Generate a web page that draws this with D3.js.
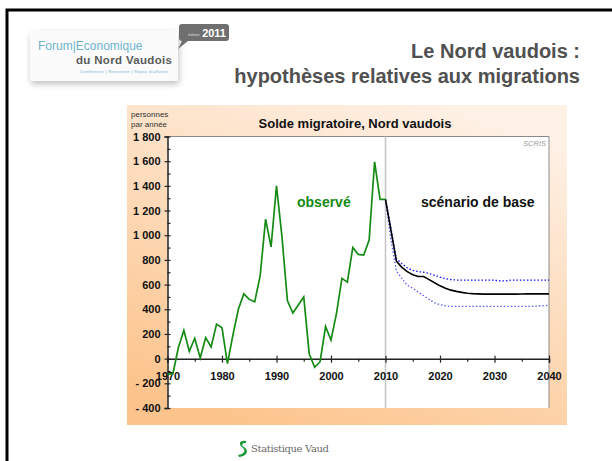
<!DOCTYPE html>
<html lang="fr">
<head>
<meta charset="UTF-8">
<title>Solde migratoire, Nord vaudois</title>
<script src="https://d3js.org/d3.v7.min.js"></script>
<style>
  body { margin: 0; background: #fff; }
  svg { display: block; font-family: "Liberation Sans", Arial, sans-serif; }
</style>
</head>
<body>
<div id="chart"></div>
<script>
// observed net migration, persons per year
const obsYears = d3.range(1970, 2011);
const observed = [-130, -120, 90, 230, 60, 165, 5, 170, 95, 280,
  250, -40, 190, 400, 525, 480, 460, 670, 1130, 905,
  1400, 990, 470, 370, 435, 500, 40, -70, -25, 260,
  150, 365, 650, 620, 900, 845, 840, 960, 1595, 1290, 1290];

// scenario years and values
const projYears = d3.range(2010, 2041);
const baseScenario = [1290, 1040, 790, 740, 705, 680, 665, 665, 640, 615,
  590, 570, 555, 545, 537, 530, 527, 525, 523, 523,
  523, 523, 523, 523, 523, 524, 525, 525, 525, 525, 525];
const upperScenario = [1290, 1060, 810, 770, 735, 715, 705, 700, 690, 675,
  660, 648, 640, 637, 636, 636, 636, 636, 636, 636,
  636, 630, 630, 636, 636, 636, 636, 636, 636, 636, 636];
const lowerScenario = [1290, 960, 710, 650, 595, 570, 540, 510, 480, 452,
  438, 428, 424, 424, 424, 424, 424, 424, 424, 424,
  424, 424, 424, 424, 424, 424, 424, 424, 426, 429, 432];

const yTicks = [-400, -200, 0, 200, 400, 600, 800, 1000, 1200, 1400, 1600, 1800];
const xTicks = [1970, 1980, 1990, 2000, 2010, 2020, 2030, 2040];

const width = 612, height = 461;

const svg = d3.select("#chart").append("svg")
  .attr("width", width)
  .attr("height", height);

// slide frame
svg.append("path")
  .attr("d", "M7,461V10H612")
  .attr("fill", "none")
  .attr("stroke", "#000")
  .attr("stroke-width", 3);

// logo
const defs = svg.append("defs");
const shadow = defs.append("filter").attr("id", "shadow")
  .attr("x", "-20%").attr("y", "-20%").attr("width", "140%").attr("height", "150%");
shadow.append("feDropShadow").attr("dx", 1).attr("dy", 3).attr("stdDeviation", 3)
  .attr("flood-color", "#000").attr("flood-opacity", 0.25);

const logo = svg.append("g");
logo.append("rect")
  .attr("x", 30).attr("y", 31).attr("width", 148).attr("height", 50)
  .attr("rx", 3).attr("fill", "#fbfbfb").attr("filter", "url(#shadow)");
logo.append("text")
  .attr("x", 38).attr("y", 50)
  .attr("font-size", 12).attr("fill", "#6db3cc")
  .text("Forum|Economique");
logo.append("text")
  .attr("x", 76).attr("y", 64)
  .attr("font-size", 11.5).attr("font-weight", "bold").attr("fill", "#5a5a5a")
  .attr("textLength", 96)
  .text("du Nord Vaudois");
logo.append("text")
  .attr("x", 80).attr("y", 73)
  .attr("font-size", 4).attr("fill", "#6db3cc")
  .attr("textLength", 88)
  .text("Conférence | Rencontre | Repas d'affaires");
logo.append("path")
  .attr("d", "M182,24h44a3,3 0 0 1 3,3v11a3,3 0 0 1 -3,3h-38l-10,8l4,-8a3,3 0 0 1 -3,-3v-11a3,3 0 0 1 3,-3z")
  .attr("fill", "#6f6f6f");
logo.append("text")
  .attr("x", 188).attr("y", 36).attr("font-size", 4).attr("fill", "#ddd")
  .text("édition");
logo.append("text")
  .attr("x", 226).attr("y", 37).attr("text-anchor", "end")
  .attr("font-size", 11).attr("font-weight", "bold").attr("fill", "#fff")
  .text("2011");

// slide title
svg.append("text")
  .attr("x", 580).attr("y", 58).attr("text-anchor", "end")
  .attr("font-size", 20).attr("font-weight", "bold").attr("fill", "#505050")
  .text("Le Nord vaudois :");
svg.append("text")
  .attr("x", 580).attr("y", 83).attr("text-anchor", "end")
  .attr("font-size", 20).attr("font-weight", "bold").attr("fill", "#505050")
  .text("hypothèses relatives aux migrations");

// chart panel
const grad = defs.append("linearGradient").attr("id", "panelGrad")
  .attr("x1", "0.75").attr("y1", "0").attr("x2", "0.25").attr("y2", "1");
grad.append("stop").attr("offset", "0%").attr("stop-color", "#fef1e6");
grad.append("stop").attr("offset", "100%").attr("stop-color", "#fcc48c");

svg.append("rect")
  .attr("x", 127).attr("y", 105).attr("width", 440).attr("height", 320)
  .attr("fill", "url(#panelGrad)");

const x = d3.scaleLinear().domain([1970, 2040]).range([167.5, 549]);
const y = d3.scaleLinear().domain([-400, 1800]).range([408, 136.5]);

// plot area
svg.append("rect")
  .attr("x", x(1970)).attr("y", y(1800))
  .attr("width", x(2040) - x(1970)).attr("height", y(-400) - y(1800))
  .attr("fill", "#fff");
svg.append("path")
  .attr("d", `M${x(1970)},${y(1800)}H${x(2040)}V${y(-400)}`)
  .attr("fill", "none").attr("stroke", "#8a8a8a").attr("stroke-width", 1);

// 2010 separator
svg.append("line")
  .attr("x1", x(2010)).attr("x2", x(2010))
  .attr("y1", y(1800)).attr("y2", y(-400))
  .attr("stroke", "#c4c4c4").attr("stroke-width", 1.5);

// number format: "1 800", "- 200"
const loc = d3.formatLocale({decimal: ",", thousands: " ", grouping: [3], currency: ["", ""]});
const fmt = loc.format(",d");
const yFormat = v => v < 0 ? "- " + fmt(-v) : fmt(v);

// y axis
const yAxis = svg.append("g")
  .attr("transform", `translate(${x(1970)},0)`)
  .call(d3.axisLeft(y).tickValues(yTicks).tickSize(3).tickPadding(4).tickFormat(yFormat));
yAxis.select(".domain").attr("stroke", "#222").attr("stroke-width", 1.5);
yAxis.selectAll("text").attr("font-size", 11).attr("font-weight", "bold").attr("fill", "#111")
  .attr("font-family", "Liberation Sans, Arial, sans-serif");
svg.append("g")
  .attr("transform", `translate(${x(1970)},0)`)
  .call(d3.axisRight(y).tickValues(d3.range(-400, 1801, 100)).tickSize(3).tickFormat(""))
  .call(g => g.select(".domain").remove())
  .selectAll("line").attr("stroke", "#222");

// x axis on the zero line
const xAxis = svg.append("g")
  .attr("transform", `translate(0,${y(0)})`)
  .call(d3.axisBottom(x).tickValues(xTicks).tickSize(4).tickPadding(10).tickFormat(d3.format("d")));
xAxis.select(".domain").attr("stroke", "#222").attr("stroke-width", 1.5);
xAxis.selectAll("text").attr("font-size", 11).attr("font-weight", "bold").attr("fill", "#111")
  .attr("font-family", "Liberation Sans, Arial, sans-serif");
svg.append("g")
  .attr("transform", `translate(0,${y(0)})`)
  .call(d3.axisTop(x).tickValues(xTicks).tickSize(3).tickFormat(""))
  .call(g => g.select(".domain").remove());
svg.append("g")
  .attr("transform", `translate(0,${y(0)})`)
  .call(d3.axisBottom(x).tickValues(d3.range(1975, 2040, 10)).tickSize(3).tickFormat(""))
  .call(g => g.select(".domain").remove());
svg.selectAll(".tick line").attr("stroke", "#222").attr("stroke-width", 1.2);

// lines
const line = d3.line().x(d => x(d[0])).y(d => y(d[1]));

svg.append("path")
  .datum(d3.zip(projYears, lowerScenario))
  .attr("d", line).attr("fill", "none")
  .attr("stroke", "#5a5aff").attr("stroke-width", 1.3).attr("stroke-dasharray", "1.5,2");
svg.append("path")
  .datum(d3.zip(projYears, upperScenario))
  .attr("d", line).attr("fill", "none")
  .attr("stroke", "#1010ff").attr("stroke-width", 1.3).attr("stroke-dasharray", "1.5,2");
svg.append("path")
  .datum(d3.zip(projYears, baseScenario))
  .attr("d", line).attr("fill", "none")
  .attr("stroke", "#000").attr("stroke-width", 1.6);
svg.append("path")
  .datum(d3.zip(obsYears, observed))
  .attr("d", line).attr("fill", "none")
  .attr("stroke", "#158a15").attr("stroke-width", 1.7);

// labels
svg.append("text")
  .attr("x", 355).attr("y", 128).attr("text-anchor", "middle")
  .attr("font-size", 13).attr("font-weight", "bold").attr("fill", "#111")
  .text("Solde migratoire, Nord vaudois");
svg.append("text")
  .attr("x", 131).attr("y", 117).attr("font-size", 8).attr("fill", "#333")
  .text("personnes");
svg.append("text")
  .attr("x", 131).attr("y", 127).attr("font-size", 8).attr("fill", "#333")
  .text("par année");
svg.append("text")
  .attr("x", 546).attr("y", 146).attr("text-anchor", "end")
  .attr("font-size", 7.5).attr("font-style", "italic").attr("fill", "#999")
  .text("SCRIS");
svg.append("text")
  .attr("x", 297).attr("y", 207)
  .attr("font-size", 14).attr("font-weight", "bold").attr("fill", "#158a15")
  .text("observé");
svg.append("text")
  .attr("x", 421).attr("y", 207)
  .attr("font-size", 14).attr("font-weight", "bold").attr("fill", "#111")
  .text("scénario de base");

// footer
const foot = svg.append("g");
foot.append("path")
  .attr("d", "M246,441c-6,-1 -8,3 -4,6c4,3 3,7 -4,8l1,2c9,-1 10,-7 5,-10c-3,-2 -2,-4 2,-4z")
  .attr("fill", "#1e9a3a");
foot.append("text")
  .attr("x", 251).attr("y", 452)
  .attr("font-family", "DejaVu Serif, serif").attr("font-size", 10).attr("fill", "#6a6a6a")
  .attr("textLength", 78)
  .text("Statistique Vaud");
</script>
</body>
</html>
